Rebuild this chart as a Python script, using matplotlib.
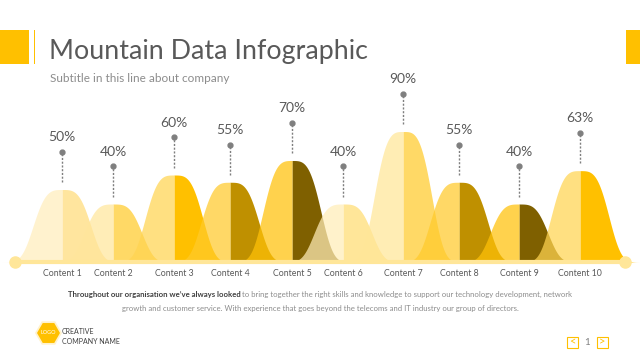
import numpy as np
import matplotlib.pyplot as plt
from matplotlib.colors import to_rgb
from matplotlib.patches import Rectangle, RegularPolygon

plt.rcParams['font.family'] = ['Lato', 'DejaVu Sans']

# datos del grafico
categorias = ['Content 1', 'Content 2', 'Content 3', 'Content 4', 'Content 5',
              'Content 6', 'Content 7', 'Content 8', 'Content 9', 'Content 10']
valores = [50, 40, 60, 55, 70, 40, 90, 55, 40, 63]
etiquetas = ['50%', '40%', '60%', '55%', '70%', '40%', '90%', '55%', '40%', '63%']

# colores (mitad izquierda clara, mitad derecha oscura)
col_izq = ['#FFF2CF', '#FFEDB8', '#FFE082', '#FFD966', '#FFD24D',
           '#FFF2CC', '#FFEDB5', '#FFD966', '#FFD24D', '#FFE082']
col_der = ['#FFE59E', '#FFD966', '#FFC000', '#BF9000', '#7F6000',
           '#FFE699', '#FFD966', '#BF9000', '#7F6000', '#FFC000']

# layout en pixeles del lienzo 640x360
centros = [62, 113, 174, 230, 292, 343, 403, 459, 519, 580]
base_px = 262
escala = 1.45  # px por punto porcentual
ancho = 32
p = 3.5
alfa_izq = 0.72

W, H = 640, 360


def ajustar(color, a):
    # color que, con transparencia a sobre blanco, se ve como 'color'
    c = (np.array(to_rgb(color)) - (1 - a)) / a
    return tuple(np.clip(c, 0, 1))


fig = plt.figure(figsize=(6.4, 3.6), dpi=100)
fig.patch.set_facecolor('white')

# ejes del grafico: x en px, y en porcentaje
ax = fig.add_axes([0, 0, 1, 1])
ax.set_xlim(0, W)
ax.set_ylim(-(H - base_px) / escala, base_px / escala)
ax.axis('off')

# ejes de decoracion en px (y hacia abajo)
deco = fig.add_axes([0, 0, 1, 1], zorder=5)
deco.set_xlim(0, W)
deco.set_ylim(H, 0)
deco.axis('off')
deco.patch.set_alpha(0)

# --- montanas ---
for i, (c, v) in enumerate(zip(centros, valores)):
    xs_l = np.linspace(c - 60, c, 200)
    xs_r = np.linspace(c, c + 60, 200)
    yl = v * np.exp(-(np.abs(xs_l - c) / ancho) ** p)
    yr = v * np.exp(-(np.abs(xs_r - c) / ancho) ** p)
    ax.fill_between(xs_r, 0, yr, color=col_der[i], lw=0, zorder=2 + 2 * i)
    ax.fill_between(xs_l, 0, yl, color=ajustar(col_izq[i], alfa_izq), alpha=alfa_izq,
                    lw=0, zorder=3 + 2 * i)
    # linea punteada, punto y etiqueta
    ax.plot([c, c], [v + 5, v + 26], color='#7f7f7f', lw=1, ls=(0, (1.5, 1.2)), zorder=30)
    ax.plot(c, v + 26, 'o', color='#7f7f7f', ms=3.5, zorder=31)
    ax.text(c, v + 36, etiquetas[i], ha='center', va='center', fontsize=10,
            color='#595959', zorder=32)
    ax.text(c, -11 / escala, categorias[i], ha='center', va='center',
            fontsize=6.3, color='#595959', zorder=32)

# linea base
ax.plot([15, 625], [0, 0], color='#FFE699', lw=3, solid_capstyle='butt', zorder=25)
ax.plot([15, 625], [0, 0], 'o', color='#FFE699', ms=8, zorder=26)

# --- cabecera ---
deco.add_patch(Rectangle((0, 30), 29, 34, color='#FFC000', lw=0))
deco.add_patch(Rectangle((33.5, 30), 1.6, 34, color='#FFC000', lw=0))
deco.add_patch(Rectangle((626, 30), 14, 34, color='#FFC000', lw=0))
deco.text(49, 51, 'Mountain Data Infographic', fontsize=19.3, color='#595959',
          ha='left', va='center')
deco.text(50, 79, 'Subtitle in this line about company', fontsize=8.5,
          color='#8c8c8c', ha='left', va='center')

# --- texto inferior ---
renderer = fig.canvas.get_renderer()
negrita = "Throughout our organisation we\u2019ve always looked"
resto = " to bring together the right skills and knowledge to support our technology development, network"
fs_pie = 5.6
t1 = deco.text(0, 294, negrita, fontsize=fs_pie, fontweight='bold', color='#404040', va='center')
t2 = deco.text(0, 294, resto, fontsize=fs_pie, color='#8c8c8c', va='center')
w1 = t1.get_window_extent(renderer).width
w2 = t2.get_window_extent(renderer).width
x0 = (W - (w1 + w2)) / 2
t1.set_x(x0)
t2.set_x(x0 + w1)
deco.text(320, 308, 'growth and customer service. With experience that goes beyond the telecoms and IT industry our group of directors.',
          fontsize=fs_pie, color='#8c8c8c', ha='center', va='center')

# --- logo ---
deco.add_patch(RegularPolygon((48.5, 333), 6, radius=13.5, orientation=np.pi / 6,
                              facecolor='#FFF2CC', edgecolor='none'))
deco.add_patch(RegularPolygon((48.5, 333), 6, radius=11.5, orientation=np.pi / 6,
                              facecolor='#FFC000', edgecolor='none'))
deco.text(48.5, 333, 'LOGO', fontsize=4, color='white', ha='center', va='center')
deco.text(62, 331, 'CREATIVE', fontsize=5, color='#404040', ha='left', va='center')
deco.text(62, 342, 'COMPANY NAME', fontsize=5, color='#404040', ha='left', va='center')

# --- paginacion ---
for xb, s in [(567, '<'), (597, '>')]:
    deco.add_patch(Rectangle((xb, 337), 11, 11, facecolor='none', edgecolor='#FFC000', lw=0.8))
    deco.text(xb + 5.5, 342, s, fontsize=8, color='#FFC000', ha='center', va='center')
deco.text(587.5, 342.5, '1', fontsize=7, color='#7f7f7f', ha='center', va='center')

fig.savefig('out.png', dpi=100)
